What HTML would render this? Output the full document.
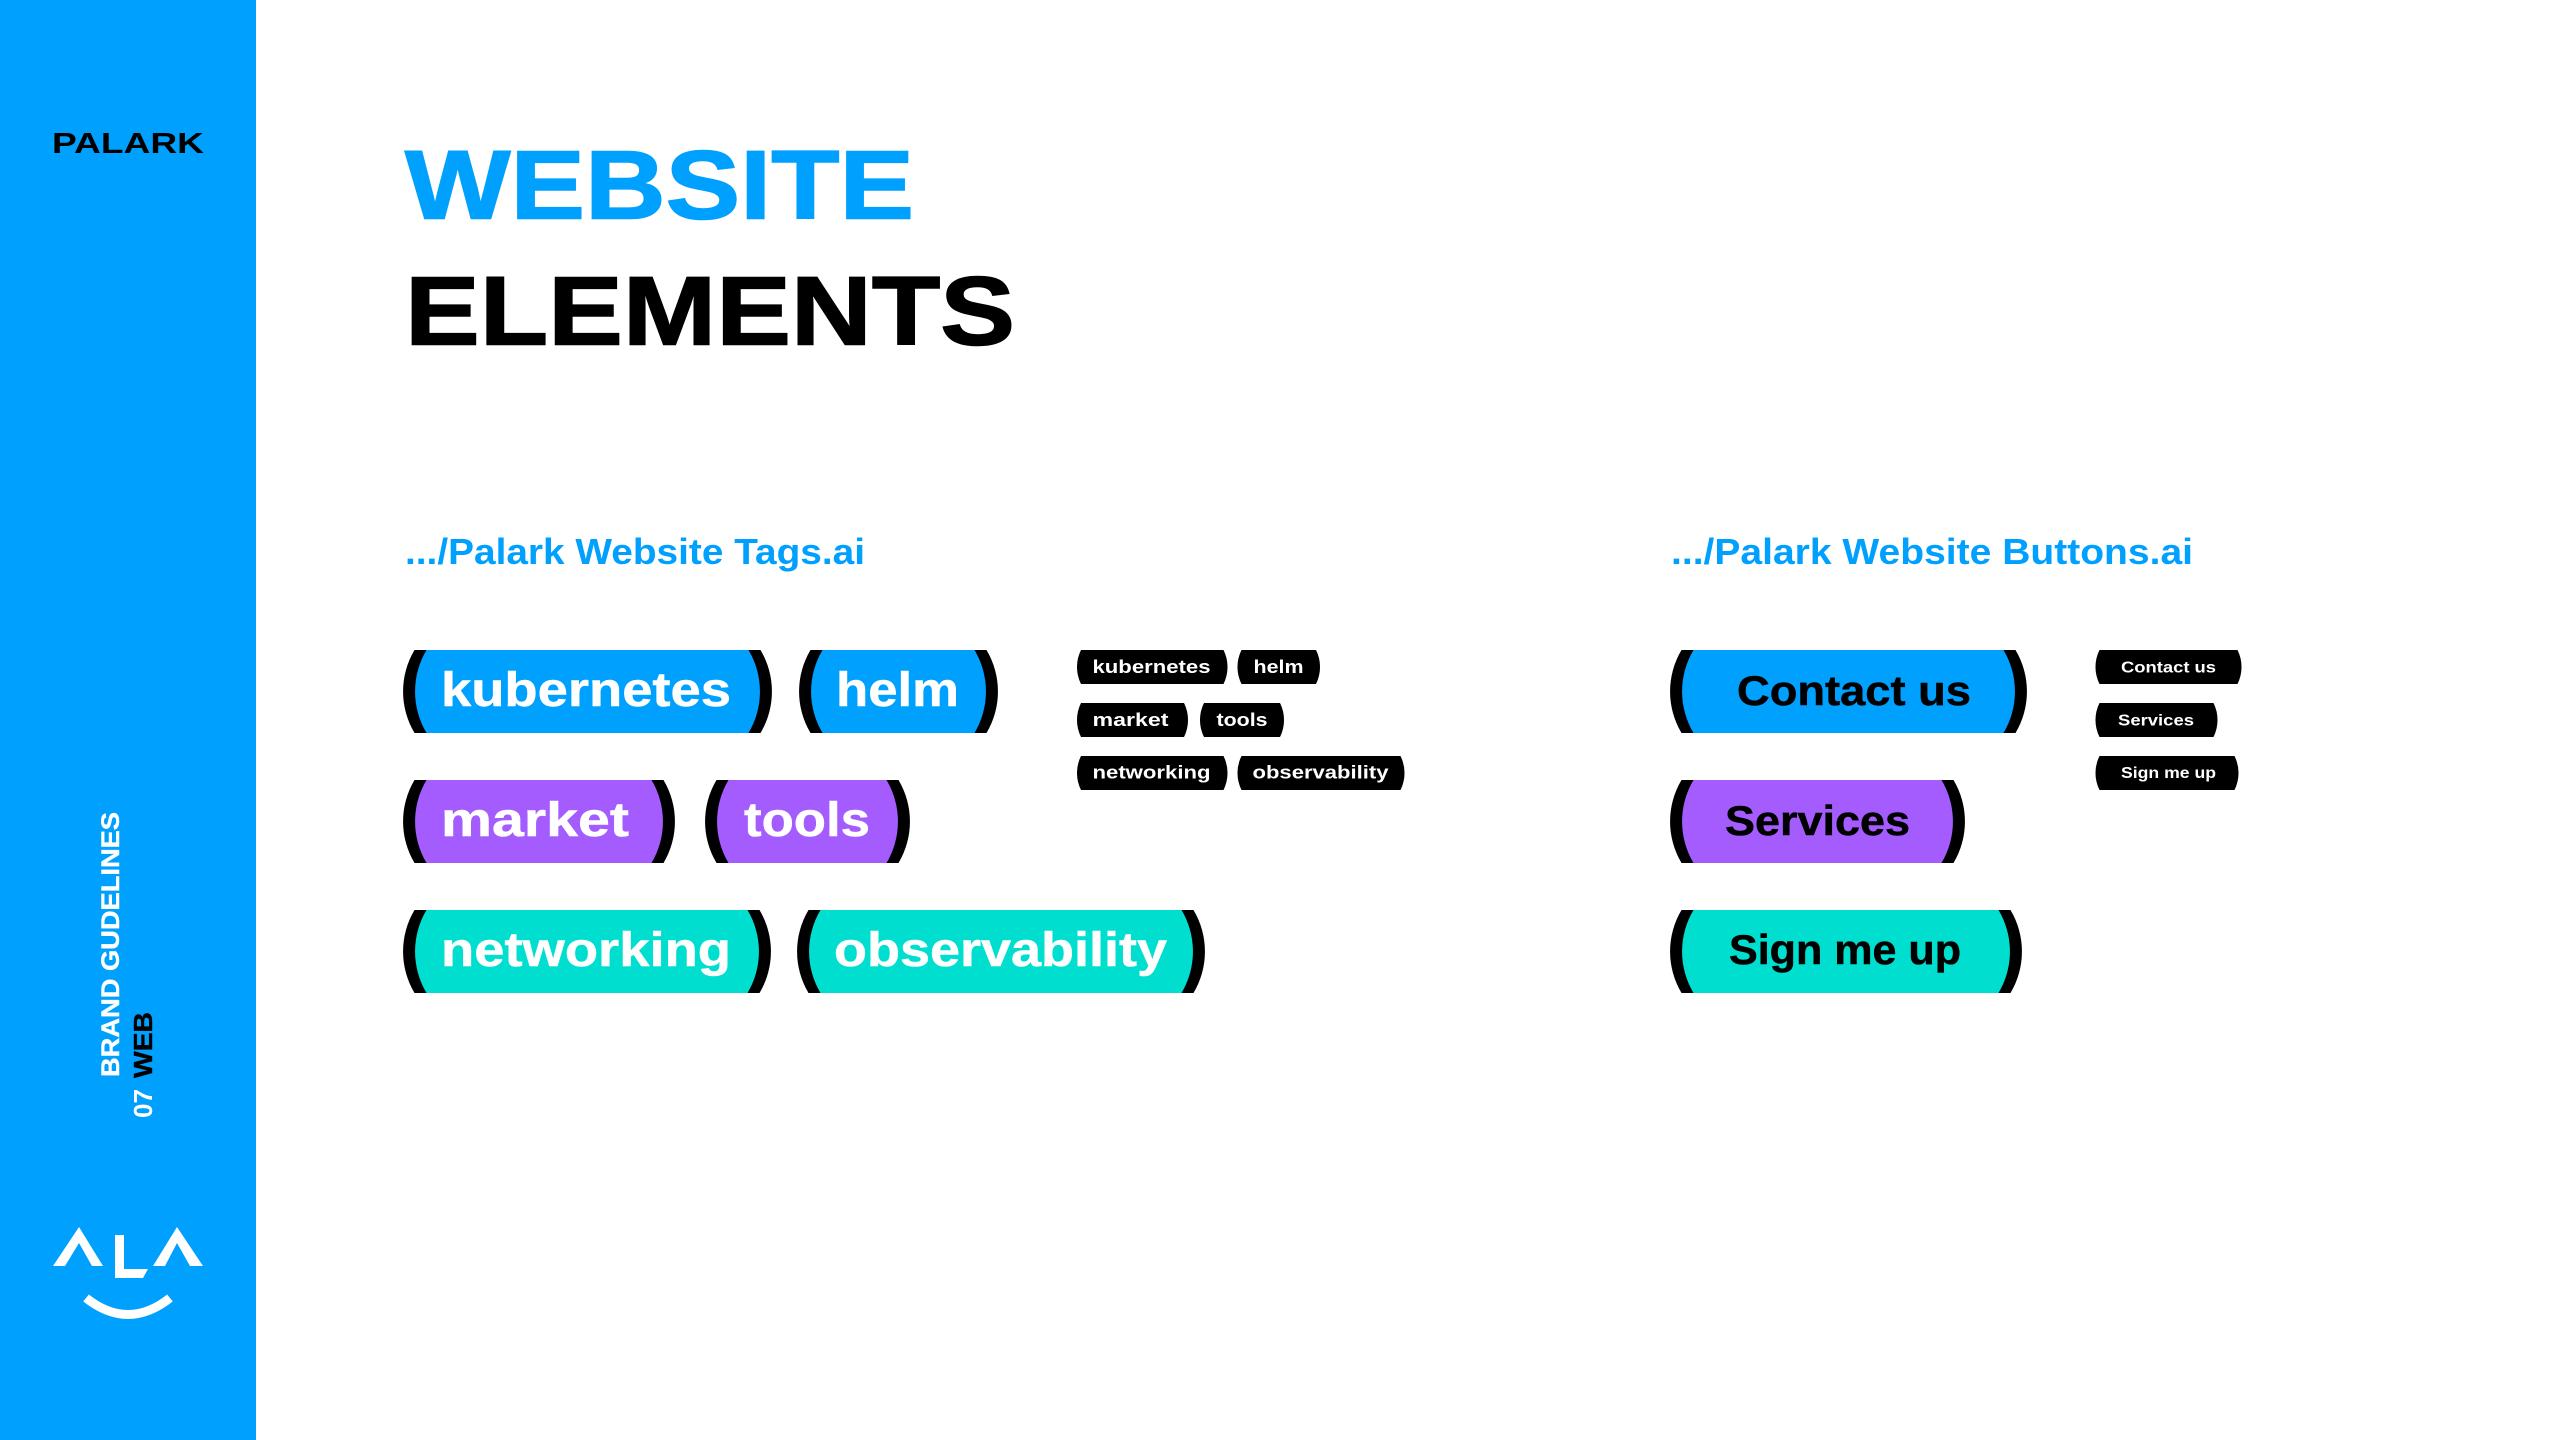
<!DOCTYPE html>
<html lang="en">
<head>
<meta charset="utf-8">
<title>Website Elements</title>
<style>
html,body{margin:0;padding:0;background:#fff;width:2560px;height:1440px;overflow:hidden}
svg{display:block}
text{font-family:"Liberation Sans",sans-serif;font-weight:700}
</style>
</head>
<body>
<svg xmlns="http://www.w3.org/2000/svg" width="2560" height="1440" viewBox="0 0 2560 1440">
<rect width="2560" height="1440" fill="#fff"/>
<rect width="256" height="1440" fill="#00A0FF"/>

<!-- Sidebar -->
<text x="52" y="153" font-size="29" textLength="152" lengthAdjust="spacingAndGlyphs" fill="#000">PALARK</text>
<text transform="translate(101.5 1077) rotate(-90)" x="0" y="17.5" font-size="25" textLength="265" lengthAdjust="spacingAndGlyphs" fill="#fff" stroke="#fff" stroke-width="0.4">BRAND GUDELINES</text>
<text transform="translate(152 1118) rotate(-90)" font-size="26" textLength="29" lengthAdjust="spacingAndGlyphs" fill="#fff">07</text>
<text transform="translate(152 1078) rotate(-90)" font-size="26" textLength="66" lengthAdjust="spacingAndGlyphs" fill="#000" stroke="#000" stroke-width="0.4">WEB</text>
<g fill="#fff">
<polygon points="53,1266 79,1227 103,1266 92,1266 79,1243 65,1266"/>
<polygon points="153,1266 177,1227 203,1266 190,1266 177,1243 165,1266"/>
<polygon points="115,1235 124,1235 124,1269 148,1269 143,1278 115,1278"/>
</g>
<path d="M86 1298 Q128 1331 170 1298" fill="none" stroke="#fff" stroke-width="9"/>

<!-- Title -->
<text x="405" y="218.5" font-size="97" textLength="509" lengthAdjust="spacingAndGlyphs" fill="#00A0FF" stroke="#00A0FF" stroke-width="1.5">WEBSITE</text>
<text x="405" y="344.5" font-size="97" textLength="610" lengthAdjust="spacingAndGlyphs" fill="#000" stroke="#000" stroke-width="1.5">ELEMENTS</text>

<!-- Section headings -->
<text x="405" y="564" font-size="36" textLength="460" lengthAdjust="spacingAndGlyphs" fill="#00A0FF">.../Palark Website Tags.ai</text>
<text x="1671" y="564" font-size="36" textLength="522" lengthAdjust="spacingAndGlyphs" fill="#00A0FF">.../Palark Website Buttons.ai</text>

<!-- Large tags: black -->
<g fill="#000">
<path d="M414.5 650h346a81 81 0 0 1 0 83h-346a81 81 0 0 1 0-83z"/>
<path d="M810.5 650h176a81 81 0 0 1 0 83h-176a81 81 0 0 1 0-83z"/>
<path d="M414.5 780h249a81 81 0 0 1 0 83h-249a81 81 0 0 1 0-83z"/>
<path d="M716.5 780h182a81 81 0 0 1 0 83h-182a81 81 0 0 1 0-83z"/>
<path d="M414.5 910h345a81 81 0 0 1 0 83h-345a81 81 0 0 1 0-83z"/>
<path d="M808.5 910h385a81 81 0 0 1 0 83h-385a81 81 0 0 1 0-83z"/>
<path d="M1681.5 650h334a81 81 0 0 1 0 83h-334a81 81 0 0 1 0-83z"/>
<path d="M1681.5 780h272a81 81 0 0 1 0 83h-272a81 81 0 0 1 0-83z"/>
<path d="M1681.5 910h329a81 81 0 0 1 0 83h-329a81 81 0 0 1 0-83z"/>
</g>
<!-- Large tags: colour -->
<g fill="#00A0FF">
<path d="M426.5 650h322a81 81 0 0 1 0 83h-322a81 81 0 0 1 0-83z"/>
<path d="M822.5 650h152a81 81 0 0 1 0 83h-152a81 81 0 0 1 0-83z"/>
<path d="M1693.5 650h310a81 81 0 0 1 0 83h-310a81 81 0 0 1 0-83z"/>
</g>
<g fill="#A45CFF">
<path d="M426.5 780h225a81 81 0 0 1 0 83h-225a81 81 0 0 1 0-83z"/>
<path d="M728.5 780h158a81 81 0 0 1 0 83h-158a81 81 0 0 1 0-83z"/>
<path d="M1693.5 780h248a81 81 0 0 1 0 83h-248a81 81 0 0 1 0-83z"/>
</g>
<g fill="#00DFCF">
<path d="M426.5 910h321a81 81 0 0 1 0 83h-321a81 81 0 0 1 0-83z"/>
<path d="M820.5 910h361a81 81 0 0 1 0 83h-361a81 81 0 0 1 0-83z"/>
<path d="M1693.5 910h305a81 81 0 0 1 0 83h-305a81 81 0 0 1 0-83z"/>
</g>

<!-- Large tag text -->
<g fill="#fff" stroke="#fff" stroke-width="0.5" font-size="48">
<text x="441" y="706" textLength="290" lengthAdjust="spacingAndGlyphs">kubernetes</text>
<text x="836" y="706" textLength="123" lengthAdjust="spacingAndGlyphs">helm</text>
<text x="441" y="836" textLength="188" lengthAdjust="spacingAndGlyphs">market</text>
<text x="744" y="836" textLength="126" lengthAdjust="spacingAndGlyphs">tools</text>
<text x="441" y="966" textLength="290" lengthAdjust="spacingAndGlyphs">networking</text>
<text x="834" y="966" textLength="333" lengthAdjust="spacingAndGlyphs">observability</text>
</g>

<!-- Large button text -->
<g fill="#000" stroke="#000" stroke-width="0.5" font-size="42">
<text x="1737" y="705" textLength="234" lengthAdjust="spacingAndGlyphs">Contact us</text>
<text x="1725" y="835" textLength="185" lengthAdjust="spacingAndGlyphs">Services</text>
<text x="1729" y="964" textLength="232" lengthAdjust="spacingAndGlyphs">Sign me up</text>
</g>

<!-- Small tags -->
<g fill="#000">
<path d="M1081 650h142.500a38 38 0 0 1 0 34h-142.500a38 38 0 0 1 0-34z"/>
<path d="M1241.500 650h74.500a38 38 0 0 1 0 34h-74.500a38 38 0 0 1 0-34z"/>
<path d="M1081 703h103a38 38 0 0 1 0 34h-103a38 38 0 0 1 0-34z"/>
<path d="M1204 703h76a38 38 0 0 1 0 34h-76a38 38 0 0 1 0-34z"/>
<path d="M1081 756h142.500a38 38 0 0 1 0 34h-142.500a38 38 0 0 1 0-34z"/>
<path d="M1241.500 756h159a38 38 0 0 1 0 34h-159a38 38 0 0 1 0-34z"/>
<path d="M2099.500 650h138a38 38 0 0 1 0 34h-138a38 38 0 0 1 0-34z"/>
<path d="M2099.500 703h114a38 38 0 0 1 0 34h-114a38 38 0 0 1 0-34z"/>
<path d="M2099.500 756h135a38 38 0 0 1 0 34h-135a38 38 0 0 1 0-34z"/>
</g>
<g fill="#fff" font-size="18">
<text x="1092.500" y="673" textLength="118" lengthAdjust="spacingAndGlyphs">kubernetes</text>
<text x="1253.500" y="673" textLength="50" lengthAdjust="spacingAndGlyphs">helm</text>
<text x="1092.500" y="726" textLength="76" lengthAdjust="spacingAndGlyphs">market</text>
<text x="1216.500" y="726" textLength="51" lengthAdjust="spacingAndGlyphs">tools</text>
<text x="1092.500" y="778.500" textLength="118" lengthAdjust="spacingAndGlyphs">networking</text>
<text x="1252.500" y="778.500" textLength="136" lengthAdjust="spacingAndGlyphs">observability</text>
</g>
<g fill="#fff" font-size="16">
<text x="2121" y="672.500" textLength="95" lengthAdjust="spacingAndGlyphs">Contact us</text>
<text x="2118" y="725.500" textLength="76" lengthAdjust="spacingAndGlyphs">Services</text>
<text x="2121" y="778" textLength="95" lengthAdjust="spacingAndGlyphs">Sign me up</text>
</g>
</svg>
</body>
</html>
